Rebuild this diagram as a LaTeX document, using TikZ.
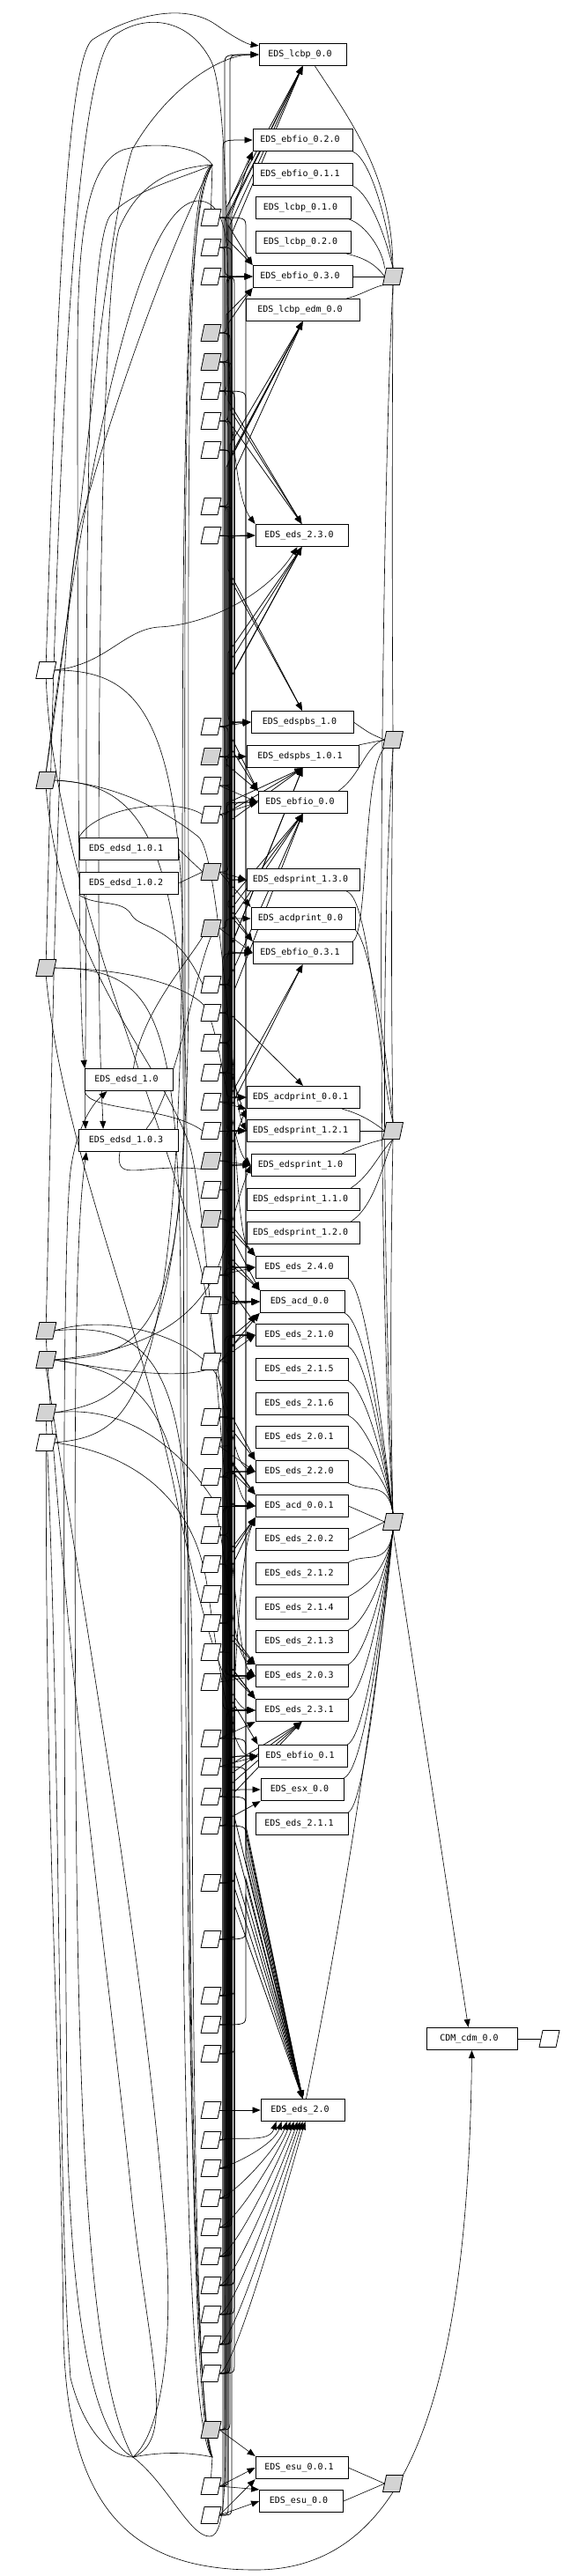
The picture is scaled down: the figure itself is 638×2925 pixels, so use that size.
\documentclass[tikz,border=0pt]{standalone}
\usepackage{fontspec}
\newfontfamily\monofont{DejaVu Sans Mono}
\usetikzlibrary{arrows.meta,calc}
\pgfdeclarelayer{bgfill}
\pgfdeclarelayer{edges}
\pgfsetlayers{bgfill,edges,main}
\definecolor{pgray}{RGB}{211,211,211}
\newcommand\tpad{\hspace*{6pt}}
\tikzset{
  rect/.style={draw, line width=0.8pt, fill=white, minimum height=25.5pt, inner sep=0pt,
    font=\monofont\fontsize{10pt}{12pt}\selectfont},
  pnode/.style={minimum width=19pt, minimum height=19pt, inner sep=0pt, outer sep=0pt},
  pshape/.style={draw, line width=0.8pt},
  edge/.style={line width=0.6pt},
  arr/.style={edge, -{Triangle[length=9pt,width=7pt]}},
  barr/.style={line width=0.75pt, -{Triangle[length=9pt,width=7pt]}},
}
\newcommand\parashape[2]{\filldraw[pshape, fill=#2] ([xshift=-2pt]#1.south west) -- ([xshift=-2pt]#1.south east) -- ([xshift=2pt]#1.north east) -- ([xshift=2pt]#1.north west) -- cycle;}
\begin{document}
\begin{tikzpicture}[x=1pt,y=-1pt]
\begin{pgfonlayer}{bgfill}
\fill[white] (0,0) rectangle (638,2925);
\end{pgfonlayer}
\path[use as bounding box] (0,0) rectangle (638,2925);

% ---------- rectangles ----------
\node[rect, minimum width=99pt]  (lcbp00)     at (343.5,62)   {EDS\_lcbp\_0.0\tpad};
\node[rect, minimum width=113pt] (ebfio020)   at (343.5,159)  {EDS\_ebfio\_0.2.0\tpad};
\node[rect, minimum width=113pt] (ebfio011)   at (343.5,198)  {EDS\_ebfio\_0.1.1\tpad};
\node[rect, minimum width=108pt] (lcbp010)    at (344,236)    {EDS\_lcbp\_0.1.0\tpad};
\node[rect, minimum width=108pt] (lcbp020)    at (344,275)    {EDS\_lcbp\_0.2.0\tpad};
\node[rect, minimum width=113pt] (ebfio030)   at (343.5,314)  {EDS\_ebfio\_0.3.0\tpad};
\node[rect, minimum width=129pt] (lcbpedm)    at (343.5,352)  {EDS\_lcbp\_edm\_0.0\tpad};
\node[rect, minimum width=105pt] (eds230)     at (342.5,608)  {EDS\_eds\_2.3.0\tpad};
\node[rect, minimum width=116pt] (edspbs10)   at (343,820)    {EDS\_edspbs\_1.0\tpad};
\node[rect, minimum width=127pt] (edspbs101)  at (343.5,859)  {EDS\_edspbs\_1.0.1\tpad};
\node[rect, minimum width=101pt] (ebfio00)    at (343.5,911)  {EDS\_ebfio\_0.0\tpad};
\node[rect, minimum width=112pt] (edsd101)    at (146,964)    {EDS\_edsd\_1.0.1\tpad};
\node[rect, minimum width=112pt] (edsd102)    at (146,1003)   {EDS\_edsd\_1.0.2\tpad};
\node[rect, minimum width=128pt] (edsprint130) at (344,999)   {EDS\_edsprint\_1.3.0\tpad};
\node[rect, minimum width=118pt] (acdprint00) at (344,1043)   {EDS\_acdprint\_0.0\tpad};
\node[rect, minimum width=113pt] (ebfio031)   at (343.5,1082) {EDS\_ebfio\_0.3.1\tpad};
\node[rect, minimum width=100pt] (edsd10)     at (146.5,1226) {EDS\_edsd\_1.0\tpad};
\node[rect, minimum width=113pt] (edsd103)    at (146,1295)   {EDS\_edsd\_1.0.3\tpad};
\node[rect, minimum width=128pt] (acdprint001) at (344,1246)  {EDS\_acdprint\_0.0.1\tpad};
\node[rect, minimum width=128pt] (edsprint121) at (344,1284)  {EDS\_edsprint\_1.2.1\tpad};
\node[rect, minimum width=118pt] (edsprint10) at (344,1323)   {EDS\_edsprint\_1.0\tpad};
\node[rect, minimum width=128pt] (edsprint110) at (344,1362)  {EDS\_edsprint\_1.1.0\tpad};
\node[rect, minimum width=128pt] (edsprint120) at (344,1400)  {EDS\_edsprint\_1.2.0\tpad};
\node[rect, minimum width=105pt] (eds240)     at (342.5,1439) {EDS\_eds\_2.4.0\tpad};
\node[rect, minimum width=96pt]  (acd00)      at (343,1478)   {EDS\_acd\_0.0\tpad};
\node[rect, minimum width=105pt] (eds210)     at (342.5,1516) {EDS\_eds\_2.1.0\tpad};
\node[rect, minimum width=105pt] (eds215)     at (342.5,1555) {EDS\_eds\_2.1.5\tpad};
\node[rect, minimum width=105pt] (eds216)     at (342.5,1594) {EDS\_eds\_2.1.6\tpad};
\node[rect, minimum width=105pt] (eds201)     at (342.5,1632) {EDS\_eds\_2.0.1\tpad};
\node[rect, minimum width=105pt] (eds220)     at (342.5,1671) {EDS\_eds\_2.2.0\tpad};
\node[rect, minimum width=105pt] (acd001)     at (342.5,1710) {EDS\_acd\_0.0.1\tpad};
\node[rect, minimum width=105pt] (eds202)     at (342.5,1748) {EDS\_eds\_2.0.2\tpad};
\node[rect, minimum width=105pt] (eds212)     at (342.5,1787) {EDS\_eds\_2.1.2\tpad};
\node[rect, minimum width=105pt] (eds214)     at (342.5,1826) {EDS\_eds\_2.1.4\tpad};
\node[rect, minimum width=105pt] (eds213)     at (342.5,1864) {EDS\_eds\_2.1.3\tpad};
\node[rect, minimum width=105pt] (eds203)     at (342.5,1903) {EDS\_eds\_2.0.3\tpad};
\node[rect, minimum width=105pt] (eds231)     at (342.5,1942) {EDS\_eds\_2.3.1\tpad};
\node[rect, minimum width=101pt] (ebfio01)    at (343.5,1994) {EDS\_ebfio\_0.1\tpad};
\node[rect, minimum width=94pt]  (esx00)      at (343,2032)   {EDS\_esx\_0.0\tpad};
\node[rect, minimum width=105pt] (eds211)     at (342.5,2071) {EDS\_eds\_2.1.1\tpad};
\node[rect, minimum width=95pt]  (eds20)      at (343.5,2396) {EDS\_eds\_2.0\tpad};
\node[rect, minimum width=105pt] (esu001)     at (342.5,2802) {EDS\_esu\_0.0.1\tpad};
\node[rect, minimum width=95pt]  (esu00)      at (342,2840)   {EDS\_esu\_0.0\tpad};
\node[rect, minimum width=103pt] (cdm)        at (535.5,2315) {CDM\_cdm\_0.0\tpad};

% ---------- parallelograms ----------
\foreach \i/\y/\c in {1/247/white,2/281/white,3/314/white,4/378/pgray,5/411/pgray,6/444/white,
  7/478/white,8/511/white,9/575/white,10/608/white,11/825/white,12/859/pgray,13/892/white,
  14/925/white,15/990/pgray,16/1054/pgray,17/1118/white,18/1150/white,19/1184/white,
  20/1218/white,21/1251/white,22/1284/white,23/1318/pgray,24/1351/white,25/1384/pgray,
  26/1448/white,27/1482/white,28/1546/white,29/1609/white,30/1642/white,31/1677/white,
  32/1710/white,33/1743/white,34/1776/white,35/1810/white,36/1843/white,37/1876/white,
  38/1910/white,39/1974/white,40/2006/white,41/2040/white,42/2073/white,43/2138/white,
  44/2202/white,45/2266/white,46/2299/white,47/2332/white,48/2396/white,49/2430/white,
  50/2462/white,51/2496/white,52/2529/white,53/2562/white,54/2595/white,55/2628/white,
  56/2662/white,57/2695/white,58/2759/pgray,59/2823/white,60/2856/white}
  {\node[pnode] (m\i) at (239.5,\y) {}; \parashape{m\i}{\c}}
\foreach \i/\y/\c in {1/761/white,2/886/pgray,3/1099/pgray,4/1511/pgray,5/1544/pgray,
  6/1604/pgray,7/1638/white}
  {\node[pnode] (l\i) at (52.3,\y) {}; \parashape{l\i}{\c}}
\foreach \i/\y in {1/314,2/840,3/1284,4/1728,5/2820}
  {\node[pnode] (pr\i) at (446,\y) {}; \parashape{pr\i}{pgray}}
\node[pnode] (pc) at (623.5,2315) {}; \parashape{pc}{white}

\coordinate (b0) at (253,0); \coordinate (b1) at (255,0); \coordinate (b2) at (257,0);
\coordinate (b3) at (259,0); \coordinate (b4) at (261,0); \coordinate (b5) at (263,0);
\coordinate (b6) at (266,0); \coordinate (b7) at (279,0);
\coordinate (j1) at (241,187); \coordinate (j2) at (241,2790); \coordinate (j3) at (151,2790);

\begin{pgfonlayer}{edges}
% ---------- right-hand groups ----------
\draw[edge] ([xshift=14pt]lcbp00.south) .. controls (400,140) and (445,200) .. (pr1.north);
\draw[edge] (ebfio020.south east) .. controls (420,180) and (440,250) .. (pr1.north);
\draw[edge] (ebfio011.south east) .. controls (420,220) and (438,270) .. (pr1.north);
\draw[edge] ([xshift=-2pt]lcbp010.south east) .. controls (415,255) and (435,285) .. (pr1.north west);
\draw[edge] ([xshift=-5pt]lcbp020.south east) .. controls (410,292) and (425,298) .. (pr1.west);
\draw[edge] (ebfio030.east) -- (pr1.west);
\draw[edge] ([xshift=-15pt]lcbpedm.north east) .. controls (410,335) and (425,325) .. (pr1.south west);

\draw[edge] (edspbs10.east) .. controls (420,833) .. (pr2.west);
\draw[edge] (edspbs101.north east) -- (pr2.west);
\draw[edge] ([xshift=-10pt]ebfio00.north east) .. controls (410,880) and (415,845) .. (pr2.west);
\draw[edge] (ebfio031.north east) .. controls (418,1060) and (412,870) .. (pr2.south west);

\draw[edge] ([xshift=-20pt]acdprint001.south east) .. controls (410,1265) and (425,1275) .. (pr3.west);
\draw[edge] (edsprint121.east) -- (pr3.west);
\draw[edge] ([xshift=-15pt]edsprint10.north east) .. controls (410,1300) and (430,1295) .. (pr3.south west);
\draw[edge] ([xshift=-10pt]edsprint110.north east) .. controls (420,1335) and (430,1310) .. (pr3.south);
\draw[edge] ([xshift=-10pt]edsprint120.north east) .. controls (425,1370) and (435,1320) .. (pr3.south);
\draw[edge] ([xshift=-15pt]edsprint130.south east) .. controls (420,1020) and (428,1200) .. (pr3.north);
\draw[edge] (acdprint00.south east) .. controls (420,1070) and (440,1200) .. (pr3.north);

\foreach \r/\y in {eds240/1439,acd00/1478,eds210/1516,eds215/1555,eds216/1594,eds201/1632,eds220/1671}
  {\draw[edge] (\r.south east) .. controls (418,\y+25) and (440,1680) .. (pr4.north);}
\draw[edge] (acd001.east) -- (pr4.west);
\draw[edge] (eds202.east) -- (pr4.west);
\foreach \r/\y in {eds212/1787,eds214/1826,eds213/1864,eds203/1903,eds231/1942,ebfio01/1994,esx00/2032,eds211/2071}
  {\draw[edge] (\r.north east) .. controls (418,\y-25) and (440,1780) .. (pr4.south);}
\draw[edge] ([xshift=4pt]eds20.north) .. controls (385,2200) and (432,1900) .. (pr4.south);

\draw[edge] (pr1.south) .. controls (445,500) and (445,700) .. (pr2.north);
\draw[edge] (pr1.south) .. controls (432,600) and (425,1400) .. (pr4.north);
\draw[edge] (pr2.south) .. controls (444,1000) and (444,1150) .. (pr3.north);
\draw[edge] (pr2.south) .. controls (430,1100) and (437,1500) .. (pr4.north);
\draw[edge] (pr3.south) .. controls (443,1450) and (443,1600) .. (pr4.north);
\draw[arr] (pr4.south) -- ([xshift=-4pt]cdm.north);
\draw[edge] (esu001.east) -- (pr5.west);
\draw[edge] (esu00.east) -- (pr5.west);
\draw[edge] (cdm.east) -- (pc.west);
\draw[arr] (l7.south) .. controls (52,2100) and (68,2300) .. (72,2650)
  .. controls (76,2850) and (150,2918) .. (290,2918)
  .. controls (450,2918) and (531,2750) .. (cdm.south);

% ---------- direct short edges ----------
\foreach \s/\t in {m3.east/ebfio030.west, m10.east/eds230.west, m11.east/edspbs10.west,
  m12.east/edspbs101.west,
  m13.east/ebfio00.west, m14.east/ebfio00.west, m15.east/edsprint130.west,
  m15.east/acdprint00.north west, m16.east/ebfio031.west, m21.east/acdprint001.south west,
  m22.east/edsprint121.west, m23.east/edsprint10.west, m26.east/eds240.west,
  m27.east/acd00.west, m28.east/eds210.west, m30.east/eds220.west, m32.east/acd001.west,
  m38.east/eds203.west, m39.east/eds231.south west, m40.east/ebfio01.west,
  m48.east/eds20.west, m58.east/esu001.north west, m59.east/esu001.west,
  m59.east/esu00.north west, m60.east/esu00.west, m60.east/esu001.south west}
  {\draw[arr] (\s) -- (\t);}
\foreach \i/\dx in {49/-30,50/-24,51/-18,52/-14,53/-10,54/-6,55/-3,56/0,57/3}
  {\draw[arr] (m\i.east) .. controls +(20,-5) and +(-8,25) .. ([xshift=\dx pt]eds20.south);}

% ---------- band edges, horizontal entry ----------
\foreach \s/\t/\b in {m2.east/ebfio030.west/b1, m7.east/edspbs10.west/b3,
  m8.east/ebfio031.west/b4, m9.east/edsprint130.west/b2,
  m17.east/acdprint001.west/b2, m18.east/edsprint121.west/b3, m19.east/edsprint10.west/b4,
  m20.east/edsprint121.west/b2, m24.east/eds240.west/b3, m25.east/acd00.west/b2,
  m29.east/eds220.west/b3, m31.east/acd001.west/b4, m33.east/acd001.west/b3,
  m34.east/eds203.west/b2, m35.east/eds231.west/b4, m42.east/esx00.west/b2,
  m43.east/ebfio01.west/b4, m1.east/acd001.west/b5, m4.east/eds203.west/b4,
  m5.east/eds231.west/b5, m6.east/acdprint001.west/b6, m44.east/acd00.west/b6,
  m45.east/eds210.west/b5, m46.east/edsprint121.west/b4, m47.east/acdprint001.west/b3,
  m50.east/ebfio031.west/b2, m51.east/edspbs10.west/b4, m52.east/ebfio030.west/b3,
  m53.east/eds230.west/b5, m54.east/ebfio00.west/b6, m55.east/acd00.west/b3,
  m56.east/eds203.west/b4, m57.east/eds231.west/b2, m30.east/edspbs10.west/b5,
  m36.east/lcbp00.west/b4, m37.east/eds210.west/b1, m41.east/eds220.west/b0,
  m45.east/eds240.west/b1, m49.east/acd001.west/b0, m11.east/eds203.west/b1,
  m14.east/eds231.west/b0, m5.east/acd00.west/b1, m60.east/ebfio020.west/b0,
  m49.east/ebfio00.west/b2, m50.east/edsprint130.west/b3, m51.east/acdprint00.west/b1,
  m52.east/edsprint10.west/b4, m53.east/edsprint121.west/b2, m54.east/eds210.west/b3,
  m55.east/eds220.west/b5, m56.east/acd001.west/b1, m57.east/eds203.west/b3,
  m58.east/eds231.west/b4, m58.east/ebfio030.west/b2, m59.east/ebfio01.west/b3,
  m60.east/eds240.west/b5, m59.east/lcbp00.west/b1, m56.east/ebfio031.west/b0,
  m57.east/acd00.west/b4, m54.east/edspbs101.west/b2, m51.east/eds210.west/b4}
  {\draw[barr] (\s) .. controls (\s-|\b) .. ($(\s-|\b)!12pt!(\t-|\b)$)
     -- ($(\t-|\b)!12pt!(\s-|\b)$) .. controls (\t-|\b) .. (\t);}

% ---------- band edges, diagonal entry ----------
\foreach \s/\t/\b/\dy in {
  m4.east/lcbp00.south/b2/160, m5.east/lcbp00.south/b3/170,
  m12.east/lcbp00.south/b4/180, m9.east/ebfio020.south west/b3/60,
  m6.east/ebfio030.south west/b2/30, m7.east/ebfio030.south west/b3/40,
  m11.east/lcbpedm.south/b4/140, m13.east/lcbpedm.south/b5/150,
  m14.east/lcbpedm.south/b3/160, m15.east/eds230.south/b3/120,
  m17.east/eds230.south/b4/130, m16.east/edspbs101.south/b2/40,
  m18.east/edspbs101.south/b3/50, m19.east/edspbs101.south/b4/60,
  m20.east/ebfio00.south/b3/100, m24.east/ebfio00.south/b4/110,
  m26.east/ebfio00.south/b5/120, m29.east/ebfio031.south/b4/150,
  m31.east/acd00.south west/b3/30, m36.east/acd001.south west/b3/40,
  m39.east/acd001.south west/b2/50, m42.east/eds231.south/b3/50,
  m44.east/eds231.south/b4/60, m46.east/eds231.south/b5/70,
  m41.east/esx00.south west/b3/20, m56.east/edspbs101.south/b5/200,
  m57.east/ebfio00.south/b6/200, m52.east/lcbp00.south/b5/190,
  m55.east/eds230.south/b6/140, m53.east/acd001.south west/b4/60,
  m54.east/eds231.south/b6/80, m47.east/ebfio031.south/b5/160,
  m45.east/acd00.south west/b4/40, m44.east/ebfio020.south west/b5/70,
  m43.east/lcbpedm.south/b6/170, m50.east/acdprint001.south west/b5/40,
  m1.east/ebfio030.north west/b2/-30, m2.east/ebfio030.north west/b3/-45,
  m4.east/eds230.north/b3/-140, m5.east/eds230.north/b4/-130,
  m6.east/eds230.north/b2/-120, m8.east/edspbs10.north/b4/-150,
  m9.east/edspbs10.north/b3/-160, m9.east/ebfio00.north west/b5/-60,
  m10.east/ebfio00.north west/b4/-50, m12.east/ebfio00.north west/b2/-30,
  m11.east/ebfio031.north west/b3/-40, m13.east/ebfio031.north west/b4/-30,
  m17.east/acdprint001.north/b5/-80, m18.east/eds240.north west/b3/-40,
  m21.east/eds240.north west/b4/-30, m19.east/acd00.north west/b3/-40,
  m23.east/acd00.north west/b4/-30, m25.east/eds220.north west/b3/-40,
  m26.east/acd001.north west/b4/-40, m28.east/acd001.north west/b3/-30,
  m29.east/acd001.north west/b5/-35, m33.east/eds203.north west/b3/-40,
  m35.east/eds203.north west/b4/-30, m34.east/eds231.north west/b3/-40,
  m36.east/eds231.north west/b4/-30, m37.east/eds231.north west/b5/-35,
  m39.east/eds20.north/b7/-300, m40.east/eds20.north/b7/-290,
  m41.east/eds20.north/b7/-280, m42.east/eds20.north/b7/-270,
  m43.east/eds20.north/b6/-260, m44.east/eds20.north/b7/-250,
  m45.east/eds20.north/b6/-240, m46.east/eds20.north/b7/-230,
  m47.east/eds20.north/b6/-220, m1.east/eds20.north/b7/-310,
  m2.east/ebfio01.north west/b5/-50, m3.east/acd00.north west/b5/-60,
  m6.east/edsprint121.north west/b6/-40, m7.east/eds220.north west/b5/-50,
  m8.east/eds210.north west/b4/-40, m3.east/eds20.north/b6/-320,
  m6.east/eds20.north/b7/-305, m20.east/eds20.north/b6/-295,
  m58.east/lcbp00.south/b1/175, m59.east/lcbpedm.south/b2/165,
  m60.east/ebfio00.south/b3/190, m57.east/eds230.south/b4/150,
  m53.east/edspbs101.south/b3/210}
  {\coordinate (tp) at ($(\t-|\b)+(0,\dy)$);
   \draw[barr] (\s) .. controls (\s-|\b) .. ($(\s-|\b)!12pt!(tp)$) -- (tp) -- (\t);}

% ---------- edsd groups ----------
\draw[edge] (edsd101.east) -- (m15.west);
\draw[edge] (edsd102.east) -- (m15.west);
\draw[edge] ([xshift=5pt]edsd10.north) .. controls (160,1150) and (215,1090) .. (m16.south west);
\draw[edge] ([xshift=20pt]edsd103.north) .. controls (200,1240) and (220,1110) .. (m16.south);
\draw[edge] (edsd101.north west) .. controls (110,915) and (200,905) .. (m14.west);
\draw[edge] (edsd102.south west) .. controls (110,1030) and (140,1020) .. (150,1040)
  .. controls (160,1055) and (200,1050) .. (m17.west);
\draw[edge] ([xshift=-10pt]edsd103.south) .. controls (130,1345) and (160,1320) .. (m23.south west);
\draw[edge] (edsd10.south west) .. controls (100,1262) and (190,1255) .. (m22.west);

% ---------- top loops ----------
\draw[arr] (l1.north) .. controls (62,450) and (72,70) .. (105,45)
  .. controls (140,22) and (205,0) .. (245,28)
  .. controls (265,42) and (280,50) .. ([yshift=-3pt]lcbp00.north west);
\draw[arr] (l2.north) .. controls (95,600) and (115,280) .. (150,170)
  .. controls (190,100) and (250,62) .. (lcbp00.west);
\draw[arr] (l3.north) .. controls (62,700) and (75,80) .. (130,40)
  .. controls (165,15) and (215,20) .. (240,70)
  .. controls (258,110) and (260,300) .. (260,600)
  .. controls (260,1100) and (262,1400) .. (eds240.north west);
\draw[arr] (l2.north) .. controls (100,500) and (160,230) .. (225,228)
  .. controls (250,228) and (258,260) .. (258,300)
  .. controls (258,400) and (262,560) .. (eds230.north west);
\draw[edge] (m1.north) -- (j1);
\draw[arr] (j1) .. controls (225,165) and (175,160) .. (140,170)
  .. controls (100,185) and (88,260) .. (88,400)
  .. controls (88,900) and (90,1150) .. (edsd10.north west);
\draw[arr] (j1) .. controls (215,200) and (150,215) .. (125,245)
  .. controls (100,280) and (98,600) .. (98,900)
  .. controls (98,1150) and (96,1240) .. ([xshift=8pt]edsd103.north west);
\draw[arr] (j1) .. controls (205,190) and (160,200) .. (135,260)
  .. controls (118,320) and (112,700) .. (112,1000)
  .. controls (112,1200) and (116,1250) .. ([xshift=28pt]edsd103.north west);
\draw[edge] (l5.east) .. controls (160,1540) and (210,1520) .. (210,1200)
  .. controls (210,600) and (205,250) .. (j1);
\draw[edge] (l6.east) .. controls (150,1590) and (214,1560) .. (214,1100)
  .. controls (214,500) and (210,220) .. (j1);
\draw[edge] (l7.east) .. controls (150,1630) and (207,1600) .. (207,1000)
  .. controls (207,400) and (215,200) .. (j1);
\draw[edge] (l4.north) .. controls (60,1200) and (65,700) .. (90,600)
  .. controls (130,450) and (200,260) .. (j1);

% ---------- bottom loops ----------
\draw[edge] (l1.east) .. controls (150,761) and (208,800) .. (208,1100)
  .. controls (208,2000) and (215,2700) .. (j2);
\draw[edge] (l2.east) .. controls (160,890) and (212,950) .. (212,1300)
  .. controls (212,2200) and (220,2740) .. (j2);
\draw[edge] (l3.east) .. controls (180,1100) and (205,1150) .. (205,1500)
  .. controls (205,2300) and (212,2760) .. (j2);
\draw[edge] (l4.east) .. controls (170,1500) and (214,1550) .. (214,1800)
  .. controls (214,2500) and (225,2770) .. (j2);
\draw[edge] (l5.east) .. controls (170,1560) and (218,1600) .. (218,1900)
  .. controls (218,2500) and (228,2775) .. (j2);
\draw[edge] (m59.north) -- (j2);
\draw[arr] (j2) .. controls (210,2783) and (175,2785) .. (j3)
  .. controls (110,2770) and (80,2650) .. (76,2400)
  .. controls (72,1900) and (70,1420) .. (80,1330)
  .. controls (85,1290) and (100,1258) .. ([xshift=-25pt]edsd10.south);
\draw[arr] (j3) .. controls (100,2700) and (88,2400) .. (86,2000)
  .. controls (84,1600) and (85,1400) .. ([xshift=-48pt]edsd103.south);
\draw[edge] (l4.south) .. controls (75,1900) and (125,2250) .. (150,2500)
  .. controls (170,2680) and (200,2770) .. (j3);
\draw[edge] (l6.south) .. controls (70,2000) and (65,2500) .. (80,2700)
  .. controls (95,2760) and (125,2790) .. (j3);
\draw[edge] (l5.south) .. controls (90,1800) and (160,2200) .. (185,2500)
  .. controls (200,2650) and (185,2760) .. (j3);
\draw[arr] (j3) .. controls (190,2820) and (215,2880) .. (238,2880)
  .. controls (258,2880) and (256,2800) .. (256,2700)
  .. controls (256,2300) and (258,1800) .. (acd001.south west);

% ---------- left crossings ----------
\draw[arr] (l4.east) .. controls (130,1490) and (220,1520) .. (245,1560)
  .. controls (262,1590) and (262,1660) .. (eds220.west);
\draw[arr] (l5.east) .. controls (150,1535) and (200,1510) .. (230,1470)
  .. controls (255,1440) and (262,1380) .. (edsprint10.west);
\draw[arr] (l5.east) .. controls (120,1555) and (220,1570) .. (245,1550)
  .. controls (262,1535) and (270,1516) .. (eds210.west);
\draw[arr] (l1.south) .. controls (60,1000) and (200,1300) .. (230,1450)
  .. controls (250,1550) and (262,1700) .. (acd001.west);
\draw[arr] (l2.south) .. controls (70,1100) and (180,1200) .. (215,1300)
  .. controls (240,1380) and (262,1880) .. (eds203.west);
\draw[arr] (l3.south) .. controls (70,1300) and (160,1500) .. (200,1700)
  .. controls (230,1850) and (262,1940) .. (eds231.west);
\draw[arr] (l3.east) .. controls (150,1100) and (210,1120) .. (230,1140)
  .. controls (250,1160) and (262,1300) .. (edsprint10.west);
\draw[arr] (l2.east) .. controls (140,890) and (200,930) .. (225,950)
  .. controls (250,970) and (262,1250) .. (edsprint121.west);
\draw[arr] (l1.east) .. controls (120,755) and (140,715) .. (180,712)
  .. controls (230,710) and (300,680) .. ([xshift=-5pt]eds230.south);
\draw[arr] (l6.east) .. controls (140,1595) and (200,1640) .. (240,1700)
  .. controls (255,1730) and (262,1880) .. (eds203.north west);
\draw[arr] (l7.east) .. controls (150,1650) and (220,1700) .. (235,1800)
  .. controls (250,1900) and (262,1994) .. (ebfio01.west);
\end{pgfonlayer}
\end{tikzpicture}
\end{document}
